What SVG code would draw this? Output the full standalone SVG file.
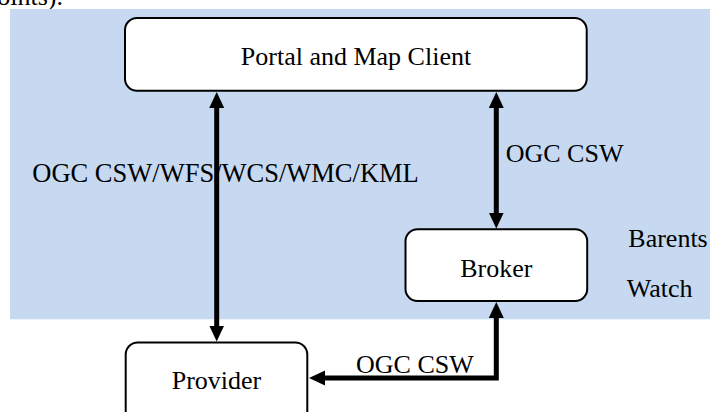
<svg xmlns="http://www.w3.org/2000/svg" width="710" height="412" viewBox="0 0 710 412">
<style>
text{font-family:"Liberation Serif","Times New Roman",serif;font-size:26px;fill:#000}
.box{fill:#fff;stroke:#000;stroke-width:2}
.con{fill:none;stroke:#000;stroke-width:5;stroke-linejoin:miter}
</style>
<defs>
<marker id="ah" markerUnits="userSpaceOnUse" markerWidth="17" markerHeight="16" refX="1" refY="7.5" orient="auto-start-reverse" viewBox="0 0 17 15">
<path d="M0,0 L16,7.5 L0,15 z" fill="#000"/>
</marker>
</defs>
<rect width="710" height="412" fill="#fff"/>
<text x="63" y="5" text-anchor="end">oints).</text>
<rect x="10" y="9" width="700" height="310.3" fill="#C6D9F0"/>
<g id="portal">
<rect class="box" x="125" y="18" width="461.7" height="72.7" rx="12"/>
<text x="356" y="65" text-anchor="middle">Portal and Map Client</text>
</g>
<g id="broker">
<rect class="box" x="405.5" y="229.3" width="181.7" height="71.7" rx="12"/>
<text x="496.3" y="277" text-anchor="middle">Broker</text>
</g>
<g id="provider">
<rect class="box" x="125.7" y="342.5" width="181.6" height="100" rx="12"/>
<text x="216.5" y="389" text-anchor="middle">Provider</text>
</g>
<g id="barents-watch">
<text x="628.3" y="246.7">Barents</text>
<text x="626.7" y="296.7">Watch</text>
</g>
<g id="connectors">
<text x="32.3" y="181.7" style="font-size:26.5px">OGC CSW/WFS/WCS/WMC/KML</text>
<text x="505.7" y="162.3">OGC CSW</text>
<text x="356" y="373.3">OGC CSW</text>
<path class="con" d="M216.7,107 V326.5" marker-start="url(#ah)" marker-end="url(#ah)"/>
<path class="con" d="M496.3,107 V213.5" marker-start="url(#ah)" marker-end="url(#ah)"/>
<path class="con" d="M496.3,317 V378 H324" marker-start="url(#ah)" marker-end="url(#ah)"/>
</g>
</svg>
